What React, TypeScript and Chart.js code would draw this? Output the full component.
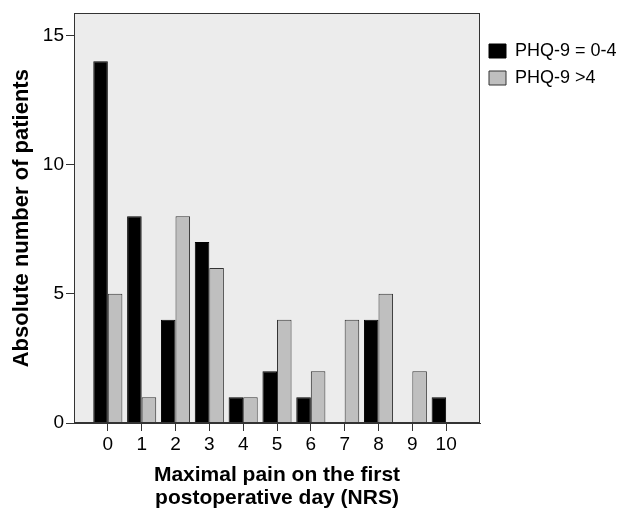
import React, { useEffect, useRef } from "react";
import { Chart, registerables } from "chart.js";

Chart.register(...registerables);

const categories = ["0", "1", "2", "3", "4", "5", "6", "7", "8", "9", "10"];
const phqLow = [14, 8, 4, 7, 1, 2, 1, 0, 4, 0, 1];
const phqHigh = [5, 1, 8, 6, 1, 4, 2, 4, 5, 2, 0];
const seriesNames = ["PHQ-9 = 0-4", "PHQ-9 >4"];
const yTicks = [0, 5, 10, 15];
const yMax = 15.85;

const FONT = "'Liberation Sans', Arial, sans-serif";

const plotFrame = {
  id: "plotFrame",
  beforeDatasetsDraw(chart: any) {
    const { ctx, chartArea } = chart;
    ctx.save();
    ctx.fillStyle = "#ececec";
    ctx.fillRect(chartArea.left, chartArea.top, chartArea.right - chartArea.left, chartArea.bottom - chartArea.top);
    ctx.restore();
  },
  afterDatasetsDraw(chart: any) {
    const { ctx, chartArea } = chart;
    ctx.save();
    ctx.strokeStyle = "#333";
    ctx.lineWidth = 1;
    ctx.strokeRect(
      Math.round(chartArea.left) + 0.5,
      Math.round(chartArea.top) + 0.5,
      Math.round(chartArea.right - chartArea.left) - 1,
      Math.round(chartArea.bottom - chartArea.top) - 1
    );
    ctx.restore();
  },
};

export default function App() {
  const ref = useRef<HTMLCanvasElement>(null);

  useEffect(() => {
    if (!ref.current) return;
    const labels = ["", ...categories, ""];
    const pad = (arr: number[]) => [null, ...arr, null];
    const chart = new Chart(ref.current, {
      type: "bar",
      data: {
        labels,
        datasets: [
          {
            label: seriesNames[0],
            data: pad(phqLow) as any,
            backgroundColor: "#000000",
            borderColor: "#000000",
            borderWidth: 1,
          },
          {
            label: seriesNames[1],
            data: pad(phqHigh) as any,
            backgroundColor: "#bfbfbf",
            borderColor: "#333333",
            borderWidth: 1,
          },
        ],
      },
      options: {
        responsive: false,
        animation: false,
        layout: { padding: { top: 12, left: 0, right: 0, bottom: 0 } },
        datasets: { bar: { categoryPercentage: 0.86, barPercentage: 1 } } as any,
        plugins: {
          tooltip: { enabled: false },
          legend: {
            position: "right",
            align: "start",
            maxWidth: 143,
            title: { display: true, text: " ", font: { size: 10, lineHeight: 1 }, padding: 5.5 },
            labels: {
              boxWidth: 17,
              boxHeight: 14,
              padding: 9,
              color: "#000",
              font: { family: FONT, size: 18 },
            },
          },
        },
        scales: {
          x: {
            type: "category",
            offset: false,
            grid: {
              display: true,
              offset: false,
              drawOnChartArea: false,
              drawTicks: true,
              tickLength: 8,
              tickColor: (c: any) => (c.index === 0 || c.index === labels.length - 1 ? "rgba(0,0,0,0)" : "#333"),
            },
            border: { display: true, color: "#333" },
            ticks: {
              autoSkip: false,
              maxRotation: 0,
              padding: 2,
              color: "#000",
              font: { family: FONT, size: 19 },
            },
            title: {
              display: true,
              text: ["Maximal pain on the first", "postoperative day (NRS)"],
              color: "#000",
              font: { family: FONT, size: 21, weight: "bold", lineHeight: 1.1 },
              padding: { top: 0, bottom: 0 },
            },
            afterFit: (s: any) => {
              s.height = 87;
            },
          },
          y: {
            min: 0,
            max: yMax,
            grid: {
              display: true,
              drawOnChartArea: false,
              drawTicks: true,
              tickLength: 8,
              tickColor: "#333",
            },
            border: { display: true, color: "#333" },
            afterBuildTicks: (s: any) => {
              s.ticks = yTicks.map((v) => ({ value: v }));
            },
            ticks: {
              padding: 2,
              color: "#000",
              font: { family: FONT, size: 19 },
            },
            title: {
              display: true,
              text: "Absolute number of patients",
              color: "#000",
              font: { family: FONT, size: 22, weight: "bold", lineHeight: 1.2 },
              padding: { top: 9, bottom: 0 },
            },
            afterFit: (s: any) => {
              s.width = 74;
            },
          },
        },
      },
      plugins: [plotFrame],
    });
    return () => chart.destroy();
  }, []);

  return (
    <div style={{ position: "fixed", left: 0, top: 0, width: 623, height: 510, background: "#fff" }}>
      <canvas ref={ref} width={623} height={510} />
    </div>
  );
}
